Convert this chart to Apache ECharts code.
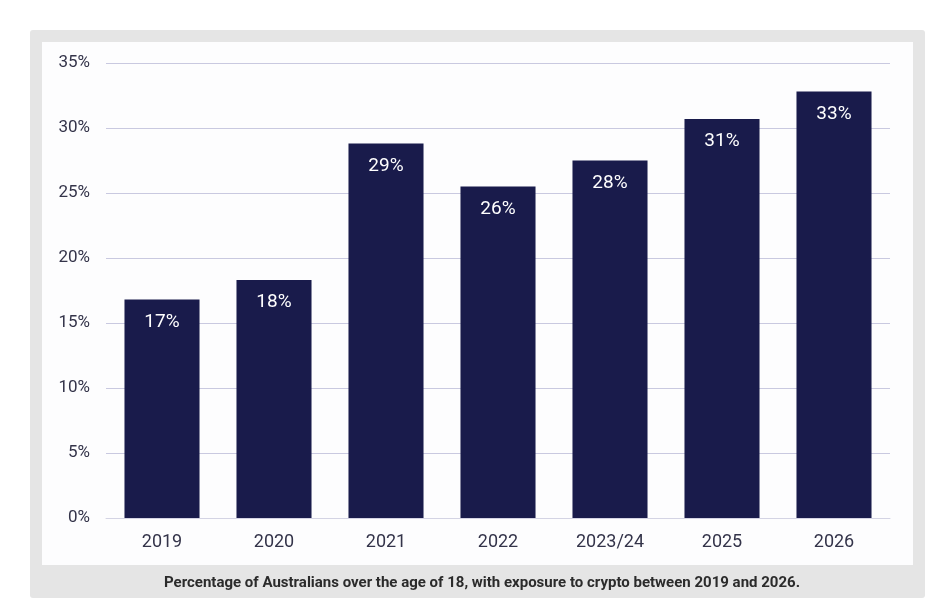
<!DOCTYPE html>
<html>
<head>
<meta charset="utf-8">
<script src="https://cdn.jsdelivr.net/npm/echarts@6/dist/echarts.min.js"></script>
<style>
  html, body { margin: 0; padding: 0; background: #ffffff; }
  #frame { position: absolute; left: 30px; top: 30px; width: 895px; height: 568px; background: #e5e5e5; border-radius: 3px; }
  #panel { position: absolute; left: 42px; top: 42px; width: 871px; height: 523px; background: #fdfdfe; }
  #chart { position: absolute; left: 0; top: 0; width: 941px; height: 610px; }
</style>
</head>
<body>
<div id="frame"></div>
<div id="panel"></div>
<div id="chart"></div>
<script>
const categories = ['2019', '2020', '2021', '2022', '2023/24', '2025', '2026'];
const exposure = [16.8, 18.3, 28.8, 25.5, 27.5, 30.7, 32.8];
const captionText = 'Percentage of Australians over the age of 18, with exposure to crypto between 2019 and 2026.';

const chart = echarts.init(document.getElementById('chart'), null, { renderer: 'canvas' });
chart.setOption({
  backgroundColor: 'transparent',
  animation: false,
  title: {
    text: captionText,
    left: 477, top: 571, textAlign: 'center',
    textStyle: { fontFamily: 'Roboto', fontSize: 15, fontWeight: 'bold', color: '#2b2b2b' }
  },
  grid: { left: 106, right: 51, top: 63, bottom: 92 },
  xAxis: {
    type: 'category',
    data: categories,
    axisLine: { show: true, lineStyle: { color: '#d4d4e4', width: 1 } },
    axisTick: { show: false },
    axisLabel: { margin: 15, fontFamily: 'Roboto', fontSize: 18, color: '#34344a' }
  },
  yAxis: {
    type: 'value',
    min: 0, max: 35, interval: 5,
    axisLine: { show: false },
    axisTick: { show: false },
    splitLine: { lineStyle: { color: '#c9c9e0', width: 1 } },
    axisLabel: { margin: 16, fontFamily: 'Roboto', fontSize: 17, color: '#34344a', formatter: '{value}%' }
  },
  series: [{
    type: 'bar',
    data: exposure,
    barWidth: '67%',
    itemStyle: { color: '#191b4b' },
    label: {
      show: true,
      position: 'insideTop',
      distance: 13,
      fontFamily: 'Roboto',
      fontSize: 19,
      color: '#ffffff',
      formatter: p => Math.round(p.value) + '%'
    }
  }]
});
</script>
</body>
</html>
